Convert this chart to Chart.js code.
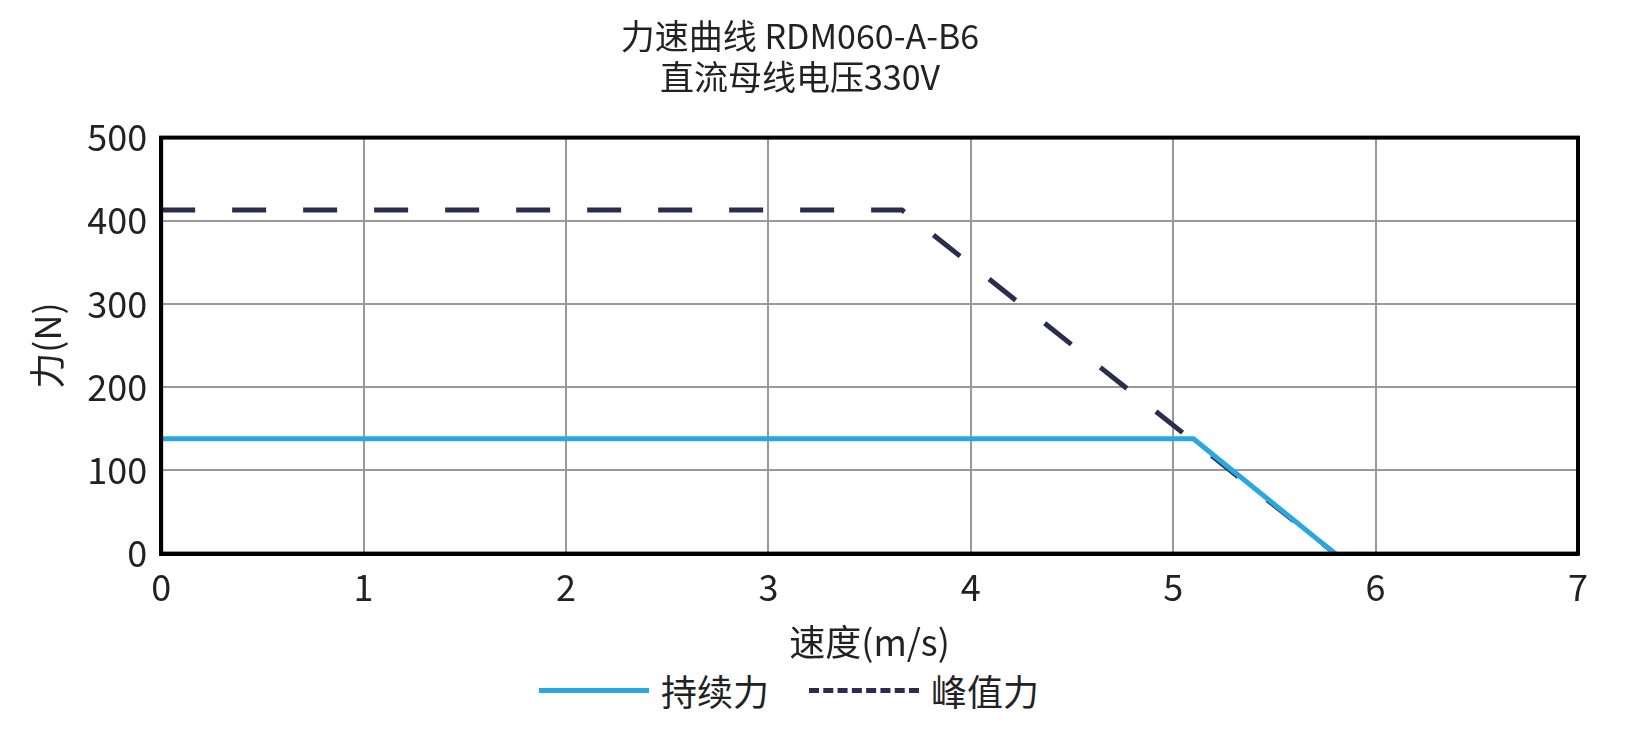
<!DOCTYPE html>
<html><head><meta charset="UTF-8">
<script src="https://cdn.jsdelivr.net/npm/chart.js"></script>
<style>
body{margin:0;background:#fff;font-family:"Noto Sans CJK SC";overflow:hidden}
#wrap{width:1638px;height:668px;position:relative}
#legend{display:flex;justify-content:center;align-items:center;gap:40px;font-size:36px;color:#222;margin-top:-4px;margin-left:-60px}
.item{display:flex;align-items:center;gap:12px}
.ln{width:110px;height:0}
</style></head><body>
<div id="wrap"><canvas id="c"></canvas></div>
<div id="legend">
<div class="item"><div class="ln" style="border-top:5px solid #29a8df"></div>持续力</div>
<div class="item"><div class="ln" style="border-top:5px dashed #2a2d4f"></div>峰值力</div>
</div>
<script>
const contSpeed = [0, 5.1, 5.8];
const contForce = [138, 138, 0];
const peakSpeed = [0, 3.66, 5.8];
const peakForce = [413, 413, 0];
const xTicks = [0,1,2,3,4,5,6,7];
const yTicks = [0,100,200,300,400,500];
const toPts = (xs, ys) => xs.map((x, i) => ({x, y: ys[i]}));
const font = {family:'"Noto Sans CJK SC"', size:36};
new Chart(document.getElementById('c'), {
  type:'line',
  data:{datasets:[
    {label:'持续力', data:toPts(contSpeed,contForce), borderColor:'#29a8df', borderWidth:5, pointRadius:0},
    {label:'峰值力', data:toPts(peakSpeed,peakForce), borderColor:'#2a2d4f', borderWidth:5, borderDash:[34,37], pointRadius:0}
  ]},
  options:{responsive:true, maintainAspectRatio:false, animation:false,
    layout:{padding:{left:22,right:60,top:0}},
    plugins:{legend:{display:false},
      title:{display:true, text:['力速曲线 RDM060-A-B6','直流母线电压330V'], color:'#222', font:{...font,size:34,weight:'normal'}, padding:{top:16,bottom:40}, lineHeight:1.25}},
    scales:{
      x:{type:'linear', min:0, max:7, afterBuildTicks:a=>{a.ticks=xTicks.map(v=>({value:v}))},
        grid:{color:'#999', lineWidth:2, drawTicks:false}, border:{color:'#000',width:4},
        ticks:{color:'#222', font, padding:12},
        title:{display:true,text:'速度(m/s)',color:'#222',font,padding:{top:0}}},
      y:{min:0, max:500, afterBuildTicks:a=>{a.ticks=yTicks.map(v=>({value:v}))},
        grid:{color:'#999', lineWidth:2, drawTicks:false}, border:{color:'#000',width:4},
        ticks:{color:'#222', font, padding:14},
        title:{display:true,text:'力(N)',color:'#222',font,padding:{bottom:4}}}
    }},
  plugins:[{id:'frame',afterDraw(ch){const {ctx,chartArea:a}=ch;ctx.save();ctx.strokeStyle='#000';ctx.lineWidth=4;ctx.strokeRect(a.left,a.top,a.right-a.left,a.bottom-a.top);ctx.restore();}}]
});
</script></body></html>
